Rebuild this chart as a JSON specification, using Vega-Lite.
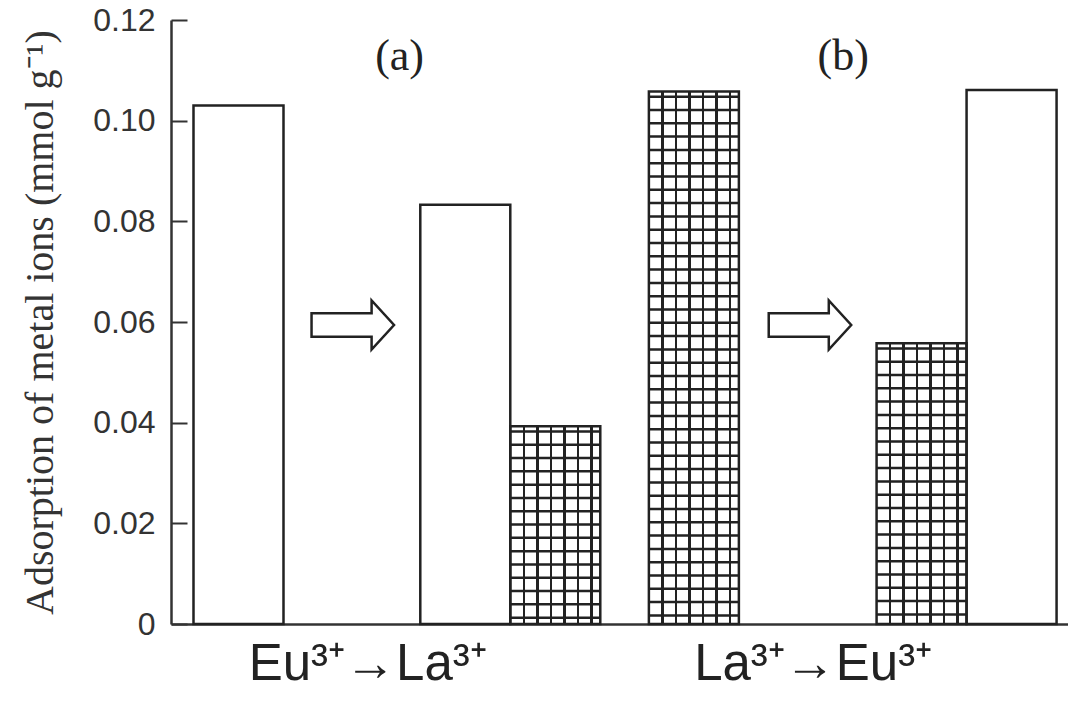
{
  "$schema": "https://vega.github.io/schema/vega-lite/v6.json",
  "width": 897,
  "height": 604,
  "autosize": {"type": "none"},
  "padding": {"left": 171, "top": 20, "right": 0, "bottom": 78},
  "background": "white",
  "config": {"view": {"stroke": null}, "axis": {"grid": false}},
  "datasets": {
    "bars": [
      {"panel": "a", "ion": "Eu", "start": 0.25, "end": 1.25, "value": 0.103},
      {"panel": "a", "ion": "Eu", "start": 2.77, "end": 3.77, "value": 0.0833},
      {"panel": "a", "ion": "La", "start": 3.77, "end": 4.77, "value": 0.0393},
      {"panel": "b", "ion": "La", "start": 5.31, "end": 6.31, "value": 0.1058},
      {"panel": "b", "ion": "La", "start": 7.84, "end": 8.84, "value": 0.0558},
      {"panel": "b", "ion": "Eu", "start": 8.84, "end": 9.84, "value": 0.1061}
    ],
    "arrows": [{"x": 2.02, "y": 0.0594}, {"x": 7.10, "y": 0.0594}],
    "panels": [{"label": "(a)", "x": 2.54, "y": 0.1127}, {"label": "(b)", "x": 7.47, "y": 0.1127}]
  },
  "layer": [
    {
      "data": {"name": "bars"},
      "transform": [{"filter": "datum.ion === 'Eu'"}],
      "mark": {"type": "bar", "fill": "white", "stroke": null},
      "encoding": {
        "x": {
          "field": "start", "type": "quantitative",
          "scale": {"domain": [0, 9.967], "nice": false, "zero": false},
          "axis": {
            "values": [2.18, 7.13],
            "labelExpr": "datum.value < 5 ? 'Eu³⁺→La³⁺' : 'La³⁺→Eu³⁺'",
            "ticks": false,
            "domain": true, "domainColor": "#333", "domainWidth": 2.5,
            "labelFont": "Liberation Sans", "labelFontSize": 51, "labelColor": "#222",
            "labelPadding": 15, "labelFlush": false, "labelOverlap": false, "labelLimit": 0,
            "title": null
          }
        },
        "x2": {"field": "end"},
        "y": {
          "field": "value", "type": "quantitative",
          "scale": {"domain": [0, 0.12], "nice": false},
          "axis": {
            "values": [0, 0.02, 0.04, 0.06, 0.08, 0.1, 0.12],
            "labelExpr": "datum.value === 0 ? '0' : format(datum.value, '.2f')",
            "tickSize": -16, "tickColor": "#333", "tickWidth": 2,
            "domain": true, "domainColor": "#333", "domainWidth": 2.5,
            "labelFont": "Liberation Sans", "labelFontSize": 32, "labelColor": "#333",
            "labelPadding": 32,
            "title": "Adsorption of metal ions (mmol g⁻¹)",
            "titleFont": "Liberation Serif", "titleFontSize": 40, "titleFontWeight": "normal",
            "titleColor": "#333", "titlePadding": 32
          }
        },
        "y2": {"datum": 0}
      }
    },
    {
      "data": {"name": "bars"},
      "transform": [{"filter": "datum.ion === 'La'"}],
      "mark": {
        "type": "bar", "stroke": null,
        "fill": {
          "gradient": "linear", "x1": 0, "y1": 0, "x2": 1, "y2": 0,
          "stops": [
            {"offset": 0, "color": "#ffffff"}, {"offset": 0.136, "color": "#ffffff"},
            {"offset": 0.136, "color": "#222222"}, {"offset": 0.164, "color": "#222222"},
            {"offset": 0.164, "color": "#ffffff"}, {"offset": 0.286, "color": "#ffffff"},
            {"offset": 0.286, "color": "#222222"}, {"offset": 0.314, "color": "#222222"},
            {"offset": 0.314, "color": "#ffffff"}, {"offset": 0.436, "color": "#ffffff"},
            {"offset": 0.436, "color": "#222222"}, {"offset": 0.464, "color": "#222222"},
            {"offset": 0.464, "color": "#ffffff"}, {"offset": 0.586, "color": "#ffffff"},
            {"offset": 0.586, "color": "#222222"}, {"offset": 0.614, "color": "#222222"},
            {"offset": 0.614, "color": "#ffffff"}, {"offset": 0.736, "color": "#ffffff"},
            {"offset": 0.736, "color": "#222222"}, {"offset": 0.764, "color": "#222222"},
            {"offset": 0.764, "color": "#ffffff"}, {"offset": 0.886, "color": "#ffffff"},
            {"offset": 0.886, "color": "#222222"}, {"offset": 0.914, "color": "#222222"},
            {"offset": 0.914, "color": "#ffffff"}, {"offset": 1, "color": "#ffffff"}
          ]
        }
      },
      "encoding": {
        "x": {"field": "start", "type": "quantitative"},
        "x2": {"field": "end"},
        "y": {"field": "value", "type": "quantitative"},
        "y2": {"datum": 0}
      }
    },
    {
      "data": {"name": "bars"},
      "transform": [{"filter": "datum.ion === 'La'"}],
      "mark": {
        "type": "rule", "strokeWidth": 90, "strokeDash": [2.5, 10.8], "strokeDashOffset": 9.3,
        "color": "#222", "xOffset": 45, "strokeCap": "butt"
      },
      "encoding": {
        "x": {"field": "start", "type": "quantitative"},
        "y": {"field": "value", "type": "quantitative"},
        "y2": {"datum": 0}
      }
    },
    {
      "data": {"name": "bars"},
      "mark": {"type": "bar", "fill": "transparent", "stroke": "#222", "strokeWidth": 2.5},
      "encoding": {
        "x": {"field": "start", "type": "quantitative"},
        "x2": {"field": "end"},
        "y": {"field": "value", "type": "quantitative"},
        "y2": {"datum": 0}
      }
    },
    {
      "mark": {"type": "rule", "strokeDash": [7, 13], "strokeWidth": 3, "color": "#333"},
      "encoding": {"x": {"datum": 5.044, "type": "quantitative"}}
    },
    {
      "mark": {"type": "rule", "strokeWidth": 2.5, "color": "#333"},
      "encoding": {"y": {"datum": 0.12, "type": "quantitative"}}
    },
    {
      "data": {"name": "arrows"},
      "mark": {
        "type": "point",
        "shape": "M-1,-0.283L0.456,-0.283L0.456,-0.594L1,0L0.456,0.594L0.456,0.283L-1,0.283Z",
        "size": 6806, "filled": true, "fill": "white", "stroke": "#222", "strokeWidth": 2.5, "opacity": 1
      },
      "encoding": {
        "x": {"field": "x", "type": "quantitative"},
        "y": {"field": "y", "type": "quantitative"}
      }
    },
    {
      "data": {"name": "panels"},
      "mark": {"type": "text", "font": "Liberation Serif", "fontSize": 44, "color": "#222", "baseline": "middle", "align": "center"},
      "encoding": {
        "x": {"field": "x", "type": "quantitative"},
        "y": {"field": "y", "type": "quantitative"},
        "text": {"field": "label"}
      }
    }
  ]
}
